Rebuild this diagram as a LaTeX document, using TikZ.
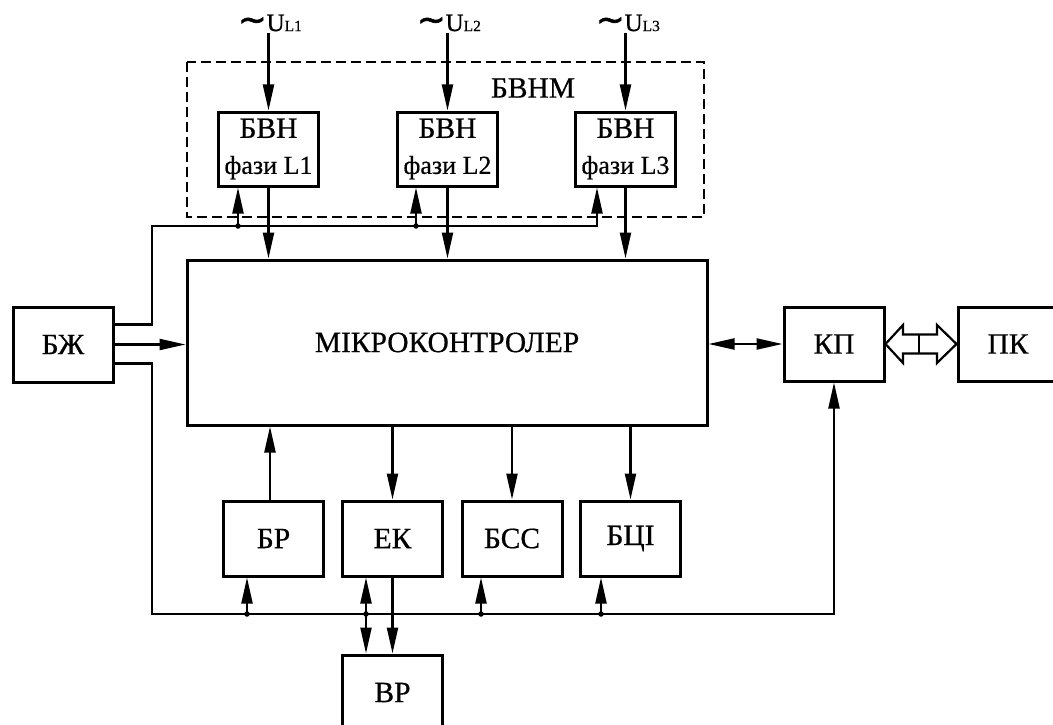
\documentclass[tikz,border=0pt]{standalone}
\usepackage{fontspec}
\setmainfont{Liberation Serif}[FakeBold=0.6]
\newfontfamily\symfont{DejaVu Sans}[FakeBold=2]
\usetikzlibrary{arrows.meta}
\tikzset{
  blk/.style={draw, line width=3pt, minimum width=100pt, minimum height=74pt, inner sep=0pt,
              font=\fontsize{29.5}{34}\selectfont, align=center},
  wire/.style={line width=2.2pt},
  arr/.style={wire, -{Triangle[length=26pt,width=11pt]}},
  darr/.style={wire, {Triangle[length=26pt,width=11pt]}-{Triangle[length=26pt,width=11pt]}},
  jdot/.style={circle, fill, inner sep=0pt, minimum size=5.5pt},
  lbl/.style={font=\fontsize{25}{26}\selectfont, inner sep=0pt},
  frame/.style={line width=2.2pt, dash pattern=on 10pt off 5pt}
}
\newcommand{\phs}[1]{БВН\\[2pt]{\fontsize{26}{30}\selectfont фази #1}}
\newcommand{\ulab}[1]{{\symfont\fontsize{34}{26}\selectfont ∼}U{\fontsize{15.5}{16}\selectfont #1}}
\begin{document}
\begin{tikzpicture}[x=1pt,y=-1pt]
\useasboundingbox (0,0) rectangle (1053,725);

% dashed module frame
\draw[frame] (187,62) rectangle (704,217);
\node[font=\fontsize{29.5}{34}\selectfont, inner sep=0pt] (bvnm) at (533,88) {БВНМ};

% blocks
\node[blk] (bvn1) at (268.5,149) {\phs{L1}};
\node[blk] (bvn2) at (447.5,149) {\phs{L2}};
\node[blk] (bvn3) at (625.5,149) {\phs{L3}};
\node[blk, minimum width=520pt, minimum height=165pt] (mc) at (447,342.5) {МІКРОКОНТРОЛЕР};
\node[blk, minimum height=75pt] (bzh) at (63,344.5) {БЖ};
\node[blk] (kp) at (834,344) {КП};
\node[blk] (pk) at (1008,344) {ПК};
\node[blk, minimum height=75pt] (br) at (273.5,538.5) {БР};
\node[blk, minimum height=75pt] (ek) at (392.5,538.5) {ЕК};
\node[blk, minimum height=75pt] (bss) at (512,538.5) {БСС};
\node[blk, minimum height=75pt] (bci) at (630.5,538.5) {БЦІ};
\node[blk, minimum height=75pt] (vr) at (392.5,692.5) {ВР};

% input labels
\node[lbl] (ul1) at (270,23) {\ulab{L1}};
\node[lbl] (ul2) at (449,23) {\ulab{L2}};
\node[lbl] (ul3) at (628,23) {\ulab{L3}};
\draw[arr] (bvn1.north |- 0,33) -- (bvn1.north);
\draw[arr] (bvn2.north |- 0,33) -- (bvn2.north);
\draw[arr] (bvn3.north |- 0,33) -- (bvn3.north);

% outputs of the phase blocks
\draw[arr] (bvn1.south) -- (bvn1.south |- mc.north);
\draw[arr] (bvn2.south) -- (bvn2.south |- mc.north);
\draw[arr] (bvn3.south) -- (bvn3.south |- mc.north);

% upper supply wire
\coordinate (wl) at (152,226);
\coordinate (t1) at (238,226);
\coordinate (t2) at (416,226);
\draw[arr] ([yshift=20pt]bzh.east) -| (wl) -| ([xshift=-28.5pt]bvn3.south);
\node[jdot] at (t1) {};
\node[jdot] at (t2) {};
\draw[arr] (t1) -- (t1 |- bvn1.south);
\draw[arr] (t2) -- (t2 |- bvn2.south);

% lower supply wire
\coordinate (wb) at (152,614);
\coordinate (b1) at (247,614);
\coordinate (b2) at (366,614);
\coordinate (b3) at (481,614);
\coordinate (b4) at (601,614);
\draw[arr] ([yshift=-19pt]bzh.east) -| (wb) -| (kp.south);
\node[jdot] at (b1) {};
\node[jdot] at (b2) {};
\node[jdot] at (b3) {};
\node[jdot] at (b4) {};
\draw[arr] (b1) -- (b1 |- br.south);
\draw[darr] (b2 |- ek.south) -- (b2 |- vr.north);
\draw[arr] (b3) -- (b3 |- bss.south);
\draw[arr] (b4) -- (b4 |- bci.south);

% BZh to MC
\draw[arr] (bzh.east) -- (bzh.east -| mc.west);

% MC <-> KP
\draw[darr] (mc.east |- kp.west) -- (kp.west);

% lower blocks
\draw[arr] ([xshift=-3.5pt]br.north) -- ([xshift=-3.5pt]br.north |- mc.south);
\draw[arr] (ek.north |- mc.south) -- (ek.north);
\draw[arr] (bss.north |- mc.south) -- (bss.north);
\draw[arr] (bci.north |- mc.south) -- (bci.north);
\draw[arr] (ek.south) -- (vr.north);

% hollow double arrow KP <-> PK
\draw[wire, line join=miter] (kp.east) -- (903,325) -- (903,334.5) -- (937,334.5) -- (937,325)
  -- (pk.west) -- (937,363) -- (937,353.5) -- (903,353.5) -- (903,363) -- cycle;
\draw[wire] (919,334.5) -- (919,353.5);
\end{tikzpicture}
\end{document}
